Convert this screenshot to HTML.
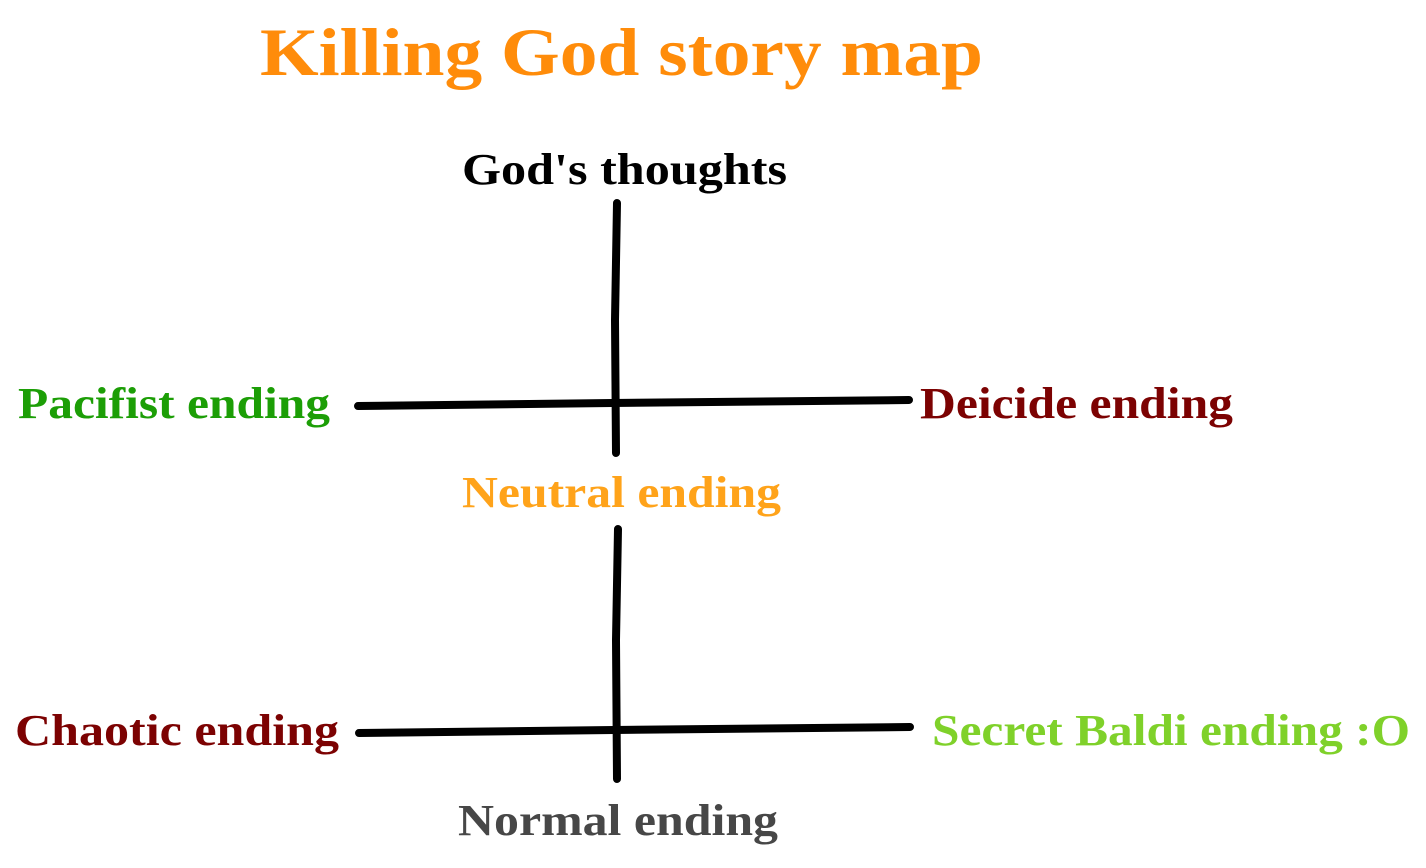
<!DOCTYPE html>
<html><head><meta charset="utf-8"><style>
html,body{margin:0;padding:0;background:#fff;}
svg{display:block;}
text{font-family:"Liberation Serif",serif;font-weight:bold;}
</style></head><body>
<svg width="1426" height="868" viewBox="0 0 1426 868" xmlns="http://www.w3.org/2000/svg">
<text x="260" y="75" font-size="68" fill="#ff8c0a" textLength="723" lengthAdjust="spacingAndGlyphs">Killing God story map</text>
<text x="462" y="184" font-size="44" fill="#000" textLength="325" lengthAdjust="spacingAndGlyphs">God's thoughts</text>
<g stroke="#000" stroke-width="8" stroke-linecap="round" fill="none">
<path d="M617 203 L615 320 L616 453"/>
<path d="M358 406 L612 403 L909 400"/>
<path d="M618 529 L616 640 L617 779"/>
<path d="M359 733 L614 730 L910 727"/>
</g>
<text x="18" y="418" font-size="44" fill="#1c9e06" textLength="312" lengthAdjust="spacingAndGlyphs">Pacifist ending</text>
<text x="920" y="418" font-size="44" fill="#7c0202" textLength="313" lengthAdjust="spacingAndGlyphs">Deicide ending</text>
<text x="462" y="507" font-size="44" fill="#ffa31a" textLength="319" lengthAdjust="spacingAndGlyphs">Neutral ending</text>
<text x="15" y="745" font-size="44" fill="#7c0202" textLength="324" lengthAdjust="spacingAndGlyphs">Chaotic ending</text>
<text x="932" y="745" font-size="44" fill="#7fd12a" textLength="478" lengthAdjust="spacingAndGlyphs">Secret Baldi ending :O</text>
<text x="458" y="835" font-size="44" fill="#474747" textLength="320" lengthAdjust="spacingAndGlyphs">Normal ending</text>
</svg>
</body></html>
